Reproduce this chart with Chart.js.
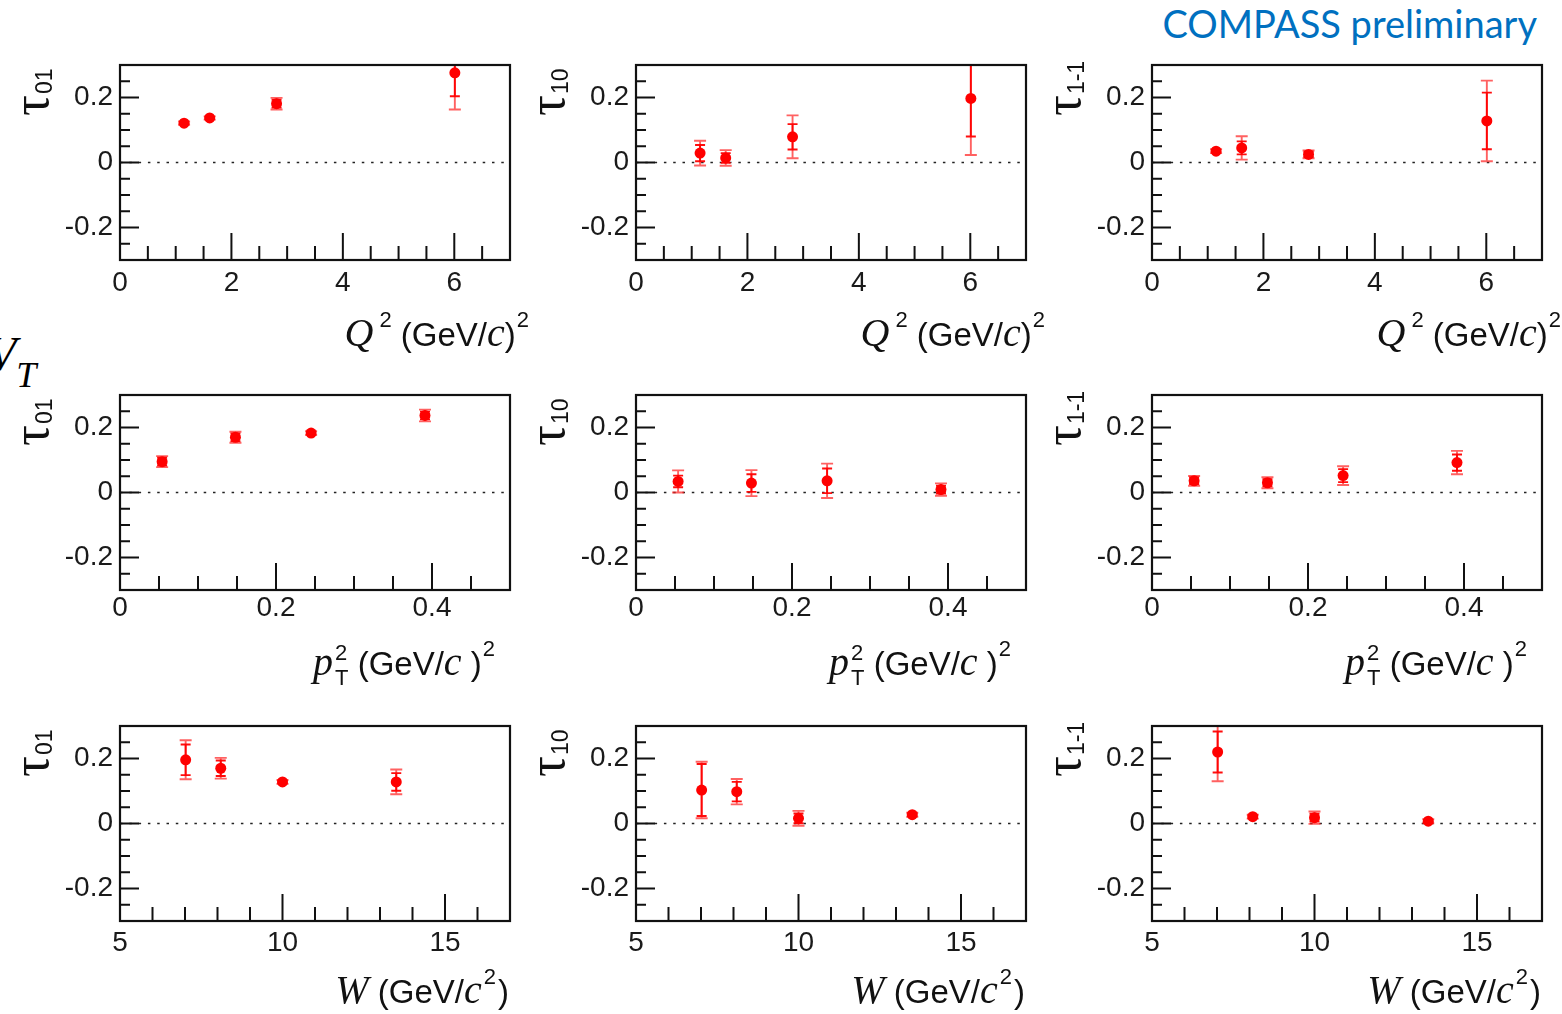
<!DOCTYPE html>
<html>
<head>
<meta charset="utf-8">
<title>Spin density matrix elements tau vs kinematics</title>
<script src="https://cdn.jsdelivr.net/npm/chart.js@4.4.1/dist/chart.umd.min.js"></script>
<style>
  html, body { margin: 0; padding: 0; background: #fff; overflow: hidden; }
  #page { position: relative; width: 1562px; height: 1014px; overflow: hidden; background: #fff; }
  #page canvas { position: absolute; }
  #prelim { position: absolute; right: 25px; top: 0px; font-family: Lato, "Open Sans", sans-serif;
            font-size: 38px; color: #0070c0; white-space: nowrap; }
  #vt { position: absolute; left: -13px; top: 330px; font-family: "Liberation Serif", serif;
        font-style: italic; font-size: 48px; color: #000; line-height: 1; white-space: nowrap; }
  #vt span { font-size: 36px; position: relative; top: 17px; }
</style>
</head>
<body>
<div id="page">
  <div id="prelim">COMPASS preliminary</div>
  <div id="vt">V<span>T</span></div>
</div>
<script>
// tick labels
const q2Ticks = [0, 2, 4, 6];
const ptTicks = [0, 0.2, 0.4];
const wTicks = [5, 10, 15];
const tauTicks = [-0.2, 0, 0.2];

// bin centres
const q2Bins = [1.15, 1.61, 2.81, 6.01];
const ptBins = [0.054, 0.148, 0.245, 0.391];
const wBins = [7.02, 8.1, 10.0, 13.5];

// tau_01
const t01Q2 = [0.121, 0.137, 0.181, 0.276];
const t01Q2Stat = [0.003, 0.003, 0.012, 0.072];
const t01Q2Tot = [0.005, 0.005, 0.018, 0.113];
const t01Pt = [0.095, 0.170, 0.183, 0.237];
const t01PtStat = [0.012, 0.012, 0.004, 0.012];
const t01PtTot = [0.017, 0.017, 0.006, 0.018];
const t01W = [0.196, 0.170, 0.128, 0.128];
const t01WStat = [0.047, 0.024, 0.004, 0.027];
const t01WTot = [0.060, 0.032, 0.006, 0.038];

// tau_10
const t10Q2 = [0.029, 0.014, 0.079, 0.197];
const t10Q2Stat = [0.025, 0.015, 0.039, 0.117];
const t10Q2Tot = [0.038, 0.024, 0.066, 0.174];
const t10Pt = [0.034, 0.029, 0.036, 0.009];
const t10PtStat = [0.018, 0.027, 0.038, 0.012];
const t10PtTot = [0.034, 0.040, 0.053, 0.019];
const t10W = [0.103, 0.098, 0.016, 0.027];
const t10WStat = [0.080, 0.030, 0.015, 0.004];
const t10WTot = [0.087, 0.039, 0.023, 0.006];

// tau_1-1
const t1m1Q2 = [0.035, 0.045, 0.025, 0.128];
const t1m1Q2Stat = [0.004, 0.020, 0.008, 0.087];
const t1m1Q2Tot = [0.006, 0.036, 0.012, 0.124];
const t1m1Pt = [0.036, 0.030, 0.052, 0.092];
const t1m1PtStat = [0.010, 0.011, 0.020, 0.025];
const t1m1PtTot = [0.015, 0.017, 0.029, 0.036];
const t1m1W = [0.220, 0.021, 0.018, 0.007];
const t1m1WStat = [0.063, 0.004, 0.012, 0.004];
const t1m1WTot = [0.090, 0.006, 0.019, 0.006];

var SERIF_I = 'italic 40px "Liberation Serif"';
var SANS = '33px "Liberation Sans"';
var SUP = '22px "Liberation Sans"';

var xAxes = [
  { min: 0, max: 7, ticks: q2Ticks, minor: 0.5, bins: q2Bins, right: 19, base: 86, pad: 6,
    title: [{ t: 'Q', f: SERIF_I }, { t: '2', f: SUP, dx: 6, dy: -19 }, { t: ' (GeV/', f: SANS },
            { t: 'c', f: SERIF_I }, { t: ')', f: SANS }, { t: '2', f: SUP, dx: 1, dy: -19 }] },
  { min: 0, max: 0.5, ticks: ptTicks, minor: 0.05, bins: ptBins, right: -15, base: 85, pad: 1,
    title: [{ t: 'p', f: SERIF_I }, { t: '2', f: SUP, dx: 2, dy: -15, sub: 'T', subDy: 10 },
            { t: ' (GeV/', f: SANS }, { t: 'c', f: SERIF_I }, { t: ' )', f: SANS },
            { t: '2', f: SUP, dx: 1, dy: -19 }] },
  { min: 5, max: 17, ticks: wTicks, minor: 1, bins: wBins, right: -1, base: 82, pad: 5,
    title: [{ t: 'W', f: SERIF_I }, { t: ' (GeV/', f: SANS }, { t: 'c', f: SERIF_I },
            { t: '2', f: SUP, dx: 2, dy: -19 }, { t: ')', f: SANS, dx: 2 }] }
];

var rows = [
  [[t01Q2, t01Q2Stat, t01Q2Tot], [t10Q2, t10Q2Stat, t10Q2Tot], [t1m1Q2, t1m1Q2Stat, t1m1Q2Tot]],
  [[t01Pt, t01PtStat, t01PtTot], [t10Pt, t10PtStat, t10PtTot], [t1m1Pt, t1m1PtStat, t1m1PtTot]],
  [[t01W, t01WStat, t01WTot], [t10W, t10WStat, t10WTot], [t1m1W, t1m1WStat, t1m1WTot]]
];
var yNames = ['01', '10', '1-1'];

var frameLefts = [120, 636, 1152];
var frameTops = [65, 395, 726];
var PLOT_W = 390, PLOT_H = 195;
var CW = 566, CH = 360, OFF_L = 120, OFF_T = 65;

function minorValues(min, max, step, majors) {
  var out = [];
  var n = Math.round((max - min) / step);
  for (var i = 1; i < n; i++) {
    var v = +(min + i * step).toFixed(6);
    if (majors.indexOf(v) < 0) out.push(v);
  }
  return out;
}

function drawRich(ctx, segs, right, base) {
  var widths = segs.map(function (s) {
    ctx.font = s.f;
    var w = ctx.measureText(s.t).width;
    if (s.sub) { ctx.font = SUP; w = Math.max(w, ctx.measureText(s.sub).width); }
    return w + (s.dx || 0);
  });
  var x = right - widths.reduce(function (a, b) { return a + b; }, 0);
  segs.forEach(function (s, i) {
    var dx = s.dx || 0;
    ctx.font = s.f;
    ctx.fillText(s.t, x + dx, base + (s.dy || 0));
    if (s.sub) { ctx.font = SUP; ctx.fillText(s.sub, x + dx, base + s.subDy); }
    x += widths[i];
  });
}

function errorBars(ctx, chart, vals, err, capHalf) {
  var xs = chart.scales.x, ys = chart.scales.y;
  var bins = chart.options.plugins.rootPad.bins;
  ctx.beginPath();
  bins.forEach(function (b, i) {
    var px = xs.getPixelForValue(b);
    var hi = ys.getPixelForValue(vals[i] + err[i]);
    var lo = ys.getPixelForValue(vals[i] - err[i]);
    ctx.moveTo(px, hi); ctx.lineTo(px, lo);
    ctx.moveTo(px - capHalf, hi); ctx.lineTo(px + capHalf, hi);
    ctx.moveTo(px - capHalf, lo); ctx.lineTo(px + capHalf, lo);
  });
  ctx.stroke();
}

// ROOT-like pad: frame, inward ticks, dotted zero line, error bars, titles
var rootPad = {
  id: 'rootPad',
  beforeDatasetsDraw: function (chart, args, opts) {
    var ctx = chart.ctx, a = chart.chartArea;
    var ys = chart.scales.y;
    ctx.save();
    ctx.beginPath();
    ctx.rect(a.left, a.top, a.right - a.left, a.bottom - a.top);
    ctx.clip();
    // zero line
    var y0 = ys.getPixelForValue(0);
    ctx.strokeStyle = '#222';
    ctx.lineWidth = 1.7;
    ctx.setLineDash([2.5, 6.8]);
    ctx.beginPath(); ctx.moveTo(a.left, y0); ctx.lineTo(a.right, y0); ctx.stroke();
    ctx.setLineDash([]);
    // total then statistical uncertainties
    ctx.lineWidth = 1.9;
    ctx.strokeStyle = 'rgba(255,30,30,0.7)';
    errorBars(ctx, chart, opts.vals, opts.tot, 6);
    ctx.strokeStyle = 'rgba(255,0,0,0.95)';
    errorBars(ctx, chart, opts.vals, opts.stat, 5);
    ctx.restore();
  },
  afterDatasetsDraw: function (chart, args, opts) {
    var ctx = chart.ctx, a = chart.chartArea;
    var xs = chart.scales.x, ys = chart.scales.y;
    ctx.save();
    ctx.strokeStyle = '#111';
    ctx.lineWidth = 2;
    ctx.beginPath();
    opts.xMajor.forEach(function (v) {
      if (v === xs.min) return;
      var p = xs.getPixelForValue(v);
      ctx.moveTo(p, a.bottom); ctx.lineTo(p, a.bottom - 27);
    });
    opts.xMinor.forEach(function (v) {
      var p = xs.getPixelForValue(v);
      ctx.moveTo(p, a.bottom); ctx.lineTo(p, a.bottom - 14);
    });
    opts.yMajor.forEach(function (v) {
      var p = ys.getPixelForValue(v);
      ctx.moveTo(a.left, p); ctx.lineTo(a.left + 19, p);
    });
    opts.yMinor.forEach(function (v) {
      var p = ys.getPixelForValue(v);
      ctx.moveTo(a.left, p); ctx.lineTo(a.left + 10, p);
    });
    ctx.stroke();
    ctx.lineWidth = 2.2;
    ctx.strokeRect(a.left, a.top, a.right - a.left, a.bottom - a.top);
    ctx.restore();
  },
  afterDraw: function (chart, args, opts) {
    var ctx = chart.ctx, a = chart.chartArea;
    ctx.save();
    ctx.fillStyle = '#111';
    ctx.textBaseline = 'alphabetic';
    drawRich(ctx, opts.xTitle, a.right + opts.titleRight, a.bottom + opts.titleBase);
    // rotated y title: tau with subscript
    ctx.translate(a.left - 72, a.top + 51);
    ctx.rotate(-Math.PI / 2);
    ctx.font = '52px "Liberation Serif"';
    ctx.fillText('\u03c4', 0, 0);
    var w = ctx.measureText('\u03c4').width;
    ctx.font = '23px "Liberation Sans"';
    ctx.fillText(opts.yName, w + 1, 4);
    ctx.restore();
  }
};

var page = document.getElementById('page');
var tauMinor = minorValues(-0.3, 0.3, 0.05, tauTicks);

rows.forEach(function (row, r) {
  var ax = xAxes[r];
  row.forEach(function (series, c) {
    var cv = document.createElement('canvas');
    cv.width = CW; cv.height = CH;
    cv.style.left = (frameLefts[c] - OFF_L) + 'px';
    cv.style.top = (frameTops[r] - OFF_T) + 'px';
    page.appendChild(cv);

    new Chart(cv.getContext('2d'), {
      type: 'scatter',
      data: {
        datasets: [{
          data: ax.bins.map(function (b, i) { return { x: b, y: series[0][i] }; }),
          pointRadius: 5.5,
          pointBackgroundColor: '#ff0000',
          pointBorderWidth: 0,
          showLine: false
        }]
      },
      options: {
        responsive: false,
        animation: false,
        devicePixelRatio: 1,
        layout: { padding: { left: 0, top: OFF_T, right: CW - OFF_L - PLOT_W, bottom: 0 } },
        plugins: {
          legend: { display: false },
          tooltip: { enabled: false },
          rootPad: {
            bins: ax.bins, vals: series[0], stat: series[1], tot: series[2],
            xMajor: ax.ticks, xMinor: minorValues(ax.min, ax.max, ax.minor, ax.ticks),
            yMajor: tauTicks, yMinor: tauMinor,
            xTitle: ax.title, titleRight: ax.right, titleBase: ax.base, yName: yNames[c]
          }
        },
        scales: {
          x: {
            type: 'linear', min: ax.min, max: ax.max,
            grid: { display: false, drawTicks: false }, border: { display: false },
            afterBuildTicks: function (s) { s.ticks = ax.ticks.map(function (v) { return { value: v }; }); },
            afterFit: function (s) { s.height = CH - OFF_T - PLOT_H; },
            ticks: { autoSkip: false, maxRotation: 0, padding: ax.pad, color: '#1a1a1a',
                     font: { family: 'Liberation Sans', size: 28 },
                     callback: function (v) { return String(v); } }
          },
          y: {
            type: 'linear', min: -0.3, max: 0.3,
            grid: { display: false, drawTicks: false }, border: { display: false },
            afterBuildTicks: function (s) { s.ticks = tauTicks.map(function (v) { return { value: v }; }); },
            afterFit: function (s) { s.width = OFF_L; },
            ticks: { padding: 7, color: '#1a1a1a',
                     font: { family: 'Liberation Sans', size: 28 },
                     callback: function (v) { return String(v); } }
          }
        }
      },
      plugins: [rootPad]
    });
  });
});
</script>
</body>
</html>
